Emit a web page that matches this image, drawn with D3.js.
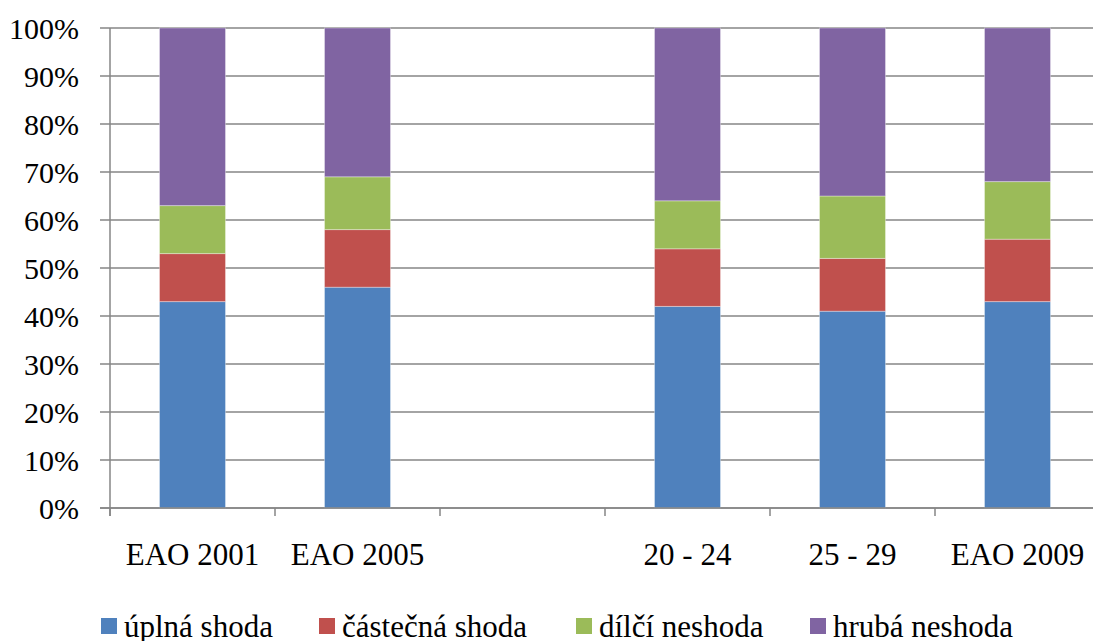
<!DOCTYPE html>
<html>
<head>
<meta charset="utf-8">
<script src="https://cdn.jsdelivr.net/npm/d3@7"></script>
<style>
  html, body { margin: 0; padding: 0; background: #fff; }
  svg { display: block; }
</style>
</head>
<body>
<svg id="chart" width="1093" height="641"></svg>
<script>
// Categories along the x axis (one slot intentionally left empty)
const categories = ["EAO 2001", "EAO 2005", "", "20 - 24", "25 - 29", "EAO 2009"];
const seriesNames = ["úplná shoda", "částečná shoda", "dílčí neshoda", "hrubá neshoda"];
const seriesColors = ["#4F81BD", "#C0504D", "#9BBB59", "#8064A2"];

// Shares in percent, per category (null = no bar)
const uplnaShoda     = [43, 46, null, 42, 41, 43];
const castecnaShoda  = [10, 12, null, 12, 11, 13];
const dilciNeshoda   = [10, 11, null, 10, 13, 12];
const hrubaNeshoda   = [37, 31, null, 36, 35, 32];

const yTicks = [0, 10, 20, 30, 40, 50, 60, 70, 80, 90, 100];

const rows = categories.map((c, i) => ({
  cat: c, key: "k" + i,
  s0: uplnaShoda[i], s1: castecnaShoda[i], s2: dilciNeshoda[i], s3: hrubaNeshoda[i]
}));

const FONT = "'Liberation Serif', 'Times New Roman', 'DejaVu Serif', serif";
const svg = d3.select("#chart").style("font-family", FONT);
const plotLeft = 110, plotRight = 1100, plotTop = 28, plotBottom = 508;

const x = d3.scaleBand().domain(rows.map(r => r.key)).range([plotLeft, plotRight]).paddingInner(0.6).paddingOuter(0.3);
const slot = d3.scaleBand().domain(rows.map(r => r.key)).range([plotLeft, plotRight]);
const y = d3.scaleLinear().domain([0, 100]).range([plotBottom, plotTop]);

const grid = "#868686";

// Horizontal gridlines with short ticks left of the axis
svg.append("g").selectAll("line").data(yTicks).join("line")
  .attr("x1", plotLeft - 10).attr("x2", plotRight)
  .attr("y1", d => y(d)).attr("y2", d => y(d))
  .attr("stroke", grid).attr("stroke-width", 1.5);

// Y labels
svg.append("g").selectAll("text").data(yTicks).join("text")
  .style("font-family", FONT)
  .attr("x", 79).attr("y", d => y(d)).attr("dy", "0.35em")
  .attr("text-anchor", "end").attr("font-size", 30).attr("fill", "#000")
  .text(d => d + "%");

// Stacked bars
const stack = d3.stack().keys(["s0", "s1", "s2", "s3"]).value((d, k) => d[k] || 0);
const stacked = stack(rows.filter(r => r.s0 !== null));
svg.append("g").selectAll("g").data(stacked).join("g")
  .attr("fill", (d, i) => seriesColors[i])
  .selectAll("rect").data(d => d).join("rect")
  .attr("x", d => x(d.data.key))
  .attr("width", x.bandwidth())
  .attr("y", d => y(d[1]))
  .attr("height", d => y(d[0]) - y(d[1]))
  .attr("stroke", "rgba(255,255,255,0.35)").attr("stroke-width", 1);

// Y axis line
svg.append("line").attr("x1", plotLeft).attr("x2", plotLeft).attr("y1", plotTop).attr("y2", plotBottom + 8)
  .attr("stroke", grid).attr("stroke-width", 1.5);

// X axis baseline and category ticks
svg.append("line").attr("x1", plotLeft - 10).attr("x2", plotRight).attr("y1", plotBottom).attr("y2", plotBottom)
  .attr("stroke", grid).attr("stroke-width", 1.5);
const tickXs = rows.map(r => slot(r.key)).concat([plotRight]);
svg.append("g").selectAll("line").data(tickXs).join("line")
  .attr("x1", d => d).attr("x2", d => d).attr("y1", plotBottom).attr("y2", plotBottom + 8)
  .attr("stroke", grid).attr("stroke-width", 1.5);

// Category labels
svg.append("g").selectAll("text").data(rows).join("text")
  .style("font-family", FONT)
  .attr("x", d => slot(d.key) + slot.bandwidth() / 2)
  .attr("y", 565).attr("text-anchor", "middle").attr("font-size", 31).attr("fill", "#000")
  .text(d => d.cat);

// Legend
const legendX = [101, 319, 576, 810];
const lg = svg.append("g").selectAll("g").data(seriesNames).join("g")
  .attr("transform", (d, i) => `translate(${legendX[i]},0)`);
lg.append("rect").attr("x", 0).attr("y", 618).attr("width", 16).attr("height", 16)
  .attr("fill", (d, i) => seriesColors[i]);
lg.append("text").style("font-family", FONT)
  .attr("x", 23).attr("y", 637).attr("font-size", 31).attr("fill", "#000").text(d => d);
</script>
</body>
</html>
